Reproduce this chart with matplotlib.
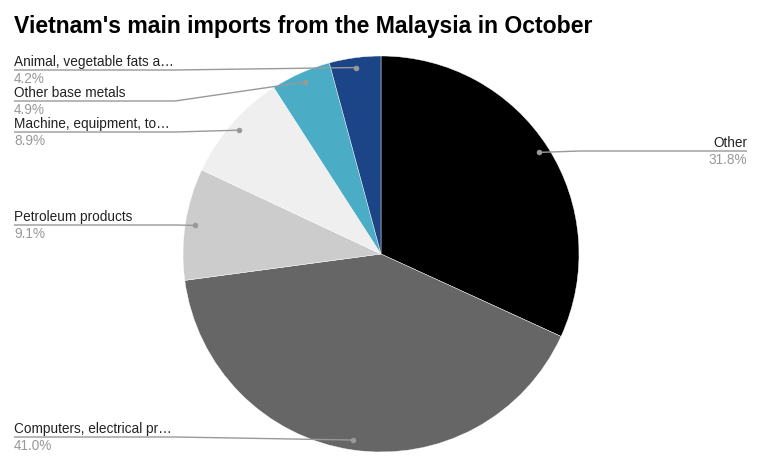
import matplotlib
matplotlib.use("Agg")
import matplotlib.pyplot as plt
import numpy as np

W, H = 763, 466

labels = ["Other", "Computers, electrical pr…", "Petroleum products",
          "Machine, equipment, to…", "Other base metals",
          "Animal, vegetable fats a…"]
shares = [31.8, 41.0, 9.1, 8.9, 4.9, 4.2]
pct_text = ["31.8%", "41.0%", "9.1%", "8.9%", "4.9%", "4.2%"]
colors = ["#000000", "#666666", "#cccccc", "#efefef", "#4bacc6", "#1c4587"]

# label placement in pixels from top-left: (text x, underline y, elbow x)
place = [
    (747, 151, 580),
    (14, 437, 175),
    (14, 225, 175),
    (14, 132, 175),
    (14, 101, 175),
    (14, 70, 175),
]

plt.rcParams["font.family"] = ["Liberation Sans", "DejaVu Sans"]

fig = plt.figure(figsize=(W / 100, H / 100), dpi=100)
ax = fig.add_axes([0, 0, 1, 1])

cx, cy, R = 381, 254, 198
wedges, _ = ax.pie(shares, colors=colors, startangle=90, counterclock=False,
                   center=(cx, H - cy), radius=R,
                   wedgeprops=dict(edgecolor="white", linewidth=0.3))
ax.set_xlim(0, W)
ax.set_ylim(0, H)
ax.set_aspect("equal")
ax.axis("off")

for w, lab, pct, (tx, ly, ex) in zip(wedges, labels, pct_text, place):
    mid = np.deg2rad((w.theta1 + w.theta2) / 2)
    dx = cx + 0.95 * R * np.cos(mid)
    dy = (H - cy) + 0.95 * R * np.sin(mid)
    yy = H - ly
    ax.plot([dx, ex, tx], [dy, yy, yy], color="#999999", lw=1.0,
            solid_capstyle="butt", zorder=5)
    ax.plot(dx, dy, "o", ms=4, color="#999999", mec="none", zorder=6)
    ha = "right" if tx > cx else "left"
    ax.text(tx, yy + 4, lab, ha=ha, va="baseline", fontsize=9.8,
            color="#222222")
    ax.text(tx, yy - 13, pct, ha=ha, va="baseline", fontsize=9.8,
            color="#999999")

ax.text(14, H - 27, "Vietnam's main imports from the Malaysia in October",
        ha="left", va="center", fontsize=16.6, fontweight="bold",
        color="#000000")

fig.savefig("out.png", dpi=100)
